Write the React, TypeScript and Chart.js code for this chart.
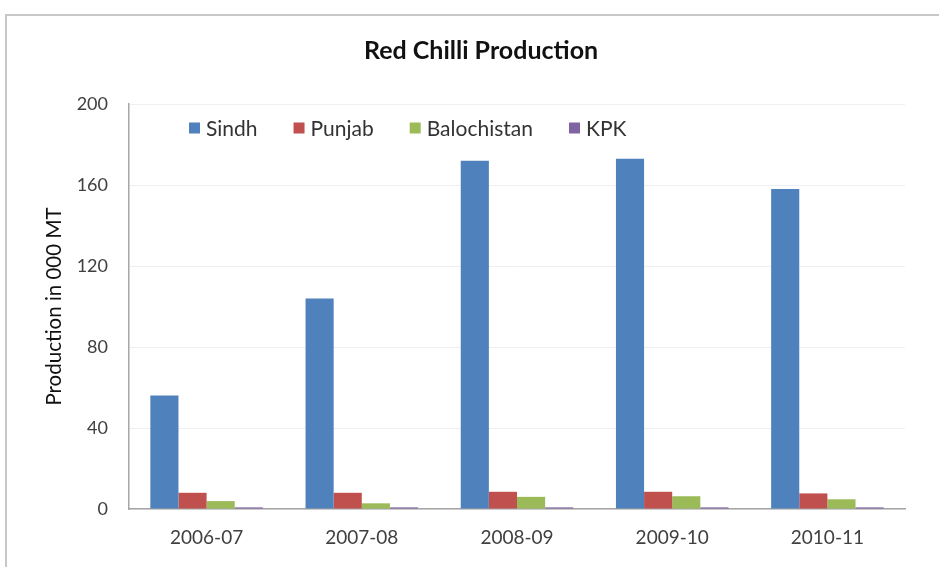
import React, { useEffect, useRef } from "react";
import { Chart, registerables } from "chart.js";

Chart.register(...registerables);

const categories = ["2006-07", "2007-08", "2008-09", "2009-10", "2010-11"];
const sindh = [56, 104, 172, 173, 158];
const punjab = [8, 8, 8.5, 8.5, 7.7];
const balochistan = [3.9, 2.8, 6, 6.3, 4.8];
const kpk = [0.8, 0.8, 0.8, 0.8, 0.8];
const seriesNames = ["Sindh", "Punjab", "Balochistan", "KPK"];
const seriesColors = ["#4f81bd", "#c0504d", "#9bbb59", "#8064a2"];
const yTicks = [0, 40, 80, 120, 160, 200];
const chartTitle = "Red Chilli Production";
const yTitle = "Production in 000 MT";

const FONT = "Lato, 'Open Sans', sans-serif";

const decorPlugin = {
  id: "decor",
  afterDraw(chart: any) {
    const { ctx, chartArea } = chart;
    ctx.save();
    // outer frame: left and top edges only
    ctx.strokeStyle = "#c8c8c8";
    ctx.lineWidth = 2;
    ctx.beginPath();
    ctx.moveTo(6, chart.height);
    ctx.lineTo(6, 15);
    ctx.lineTo(chart.width, 15);
    ctx.stroke();
    // title
    ctx.font = `bold 25px ${FONT}`;
    ctx.fillStyle = "#111111";
    ctx.textAlign = "center";
    ctx.textBaseline = "middle";
    ctx.fillText(chartTitle, 481, 51);
    // legend inside the plot area
    ctx.font = `21px ${FONT}`;
    ctx.textBaseline = "middle";
    ctx.textAlign = "left";
    let x = chartArea.left + 60;
    const y = chartArea.top + 24;
    const box = 11;
    chart.data.datasets.forEach((ds: any) => {
      ctx.fillStyle = ds.backgroundColor;
      ctx.fillRect(x, y - box / 2, box, box);
      ctx.fillStyle = "#333333";
      ctx.fillText(ds.label, x + 17, y + 1);
      x += 17 + ctx.measureText(ds.label).width + 36;
    });
    ctx.restore();
  },
};

export default function App() {
  const ref = useRef<HTMLCanvasElement | null>(null);
  useEffect(() => {
    document.documentElement.style.overflow = "hidden";
    document.body.style.overflow = "hidden";
    document.body.style.margin = "0";
    if (!ref.current) return;
    const values = [sindh, punjab, balochistan, kpk];
    const chart = new Chart(ref.current, {
      type: "bar",
      data: {
        labels: categories,
        datasets: seriesNames.map((name, i) => ({
          label: name,
          data: values[i],
          backgroundColor: seriesColors[i],
          borderWidth: 0,
          barPercentage: 1,
          categoryPercentage: 0.725,
        })),
      },
      options: {
        responsive: false,
        animation: false,
        layout: { padding: { left: 0, right: 34, top: 104, bottom: 0 } },
        plugins: {
          legend: { display: false },
          tooltip: { enabled: false },
          title: { display: false },
        },
        scales: {
          x: {
            grid: { display: false, drawTicks: false },
            border: { display: true, color: "#a6a6a6", width: 1.5 },
            ticks: {
              color: "#404040",
              font: { family: FONT, size: 19 },
              padding: 17,
              maxRotation: 0,
            },
            afterFit(scale: any) {
              scale.height = 58;
            },
          },
          y: {
            min: 0,
            max: 200,
            afterBuildTicks(scale: any) {
              scale.ticks = yTicks.map((v) => ({ value: v }));
            },
            grid: { color: "#efefef", drawTicks: false },
            border: { display: true, color: "#a6a6a6", width: 1.5 },
            ticks: {
              color: "#404040",
              font: { family: FONT, size: 18 },
              padding: 21,
            },
            title: {
              display: true,
              text: yTitle,
              color: "#111111",
              font: { family: FONT, size: 20.5 },
              padding: { top: 42, bottom: 0 },
            },
            afterFit(scale: any) {
              scale.width = 129;
            },
          },
        },
      },
      plugins: [decorPlugin],
    });
    return () => chart.destroy();
  }, []);

  return (
    <div
      style={{
        position: "fixed",
        left: 0,
        top: 0,
        width: 939,
        height: 567,
        background: "#fff",
        overflow: "hidden",
      }}
    >
      <canvas ref={ref} width={939} height={567} style={{ position: "absolute", left: 0, top: 0 }} />
    </div>
  );
}
